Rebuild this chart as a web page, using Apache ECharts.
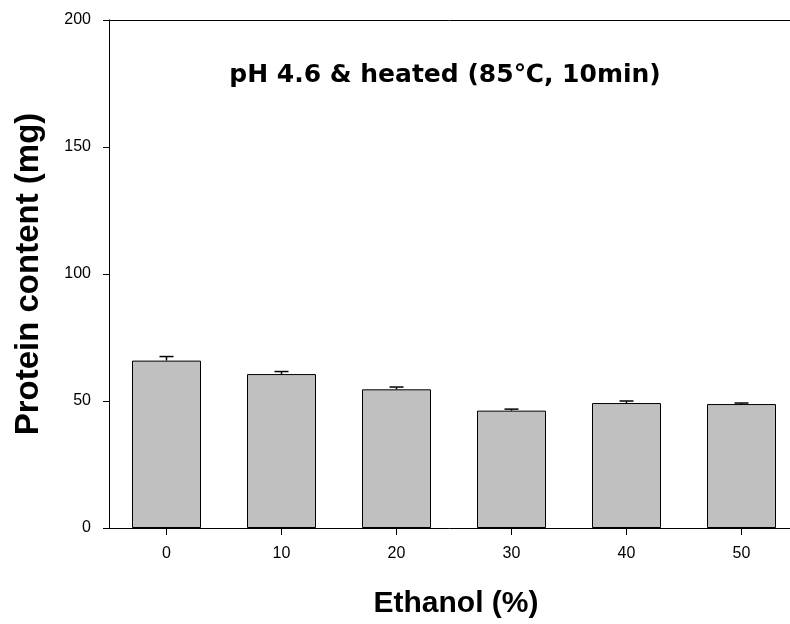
<!DOCTYPE html>
<html>
<head>
<meta charset="utf-8">
<script src="https://cdn.jsdelivr.net/npm/echarts@6/dist/echarts.min.js"></script>
<style>
  html, body { margin: 0; padding: 0; background: #fff; }
  #chart { width: 790px; height: 624px; }
</style>
</head>
<body>
<div id="chart"></div>
<script>
// Ethanol concentration groups (%)
const ethanolLevels = ['0', '10', '20', '30', '40', '50'];
// Mean protein content (mg)
const proteinMean = [65.9, 60.6, 54.6, 46.2, 49.2, 48.8];
// Standard deviation (mg)
const proteinSD = [1.6, 1.0, 0.9, 0.6, 0.8, 0.4];
// Y-axis ticks
const yTicks = [0, 50, 100, 150, 200];

const chart = echarts.init(document.getElementById('chart'), null, { renderer: 'canvas' });

// Groups sit at index positions 0..5; the plot frame continues past the
// right edge of the canvas, so the visible x range stops short of 5.5.
const plotLeft = 109;
const bandPx = 115;
const plotWidth = 790 - plotLeft;
const xMin = -0.5;
const xMax = xMin + plotWidth / bandPx;
const groupIdx = ethanolLevels.map((_, i) => i);

const barData = proteinMean.map((m, i) => [i, m]);
const errorData = proteinMean.map((m, i) => [i, m, m + proteinSD[i]]);

const font = 'Liberation Sans';

const option = {
  animation: false,
  backgroundColor: '#ffffff',
  title: [
    {
      text: 'pH 4.6 & heated (85\u2103, 10min)',
      left: 440,
      top: 58,
      textAlign: 'center',
      textStyle: { fontFamily: 'DejaVu Sans', fontWeight: 'bold', fontSize: 25, color: '#000' }
    },
    {
      text: 'Ethanol (%)',
      left: 451,
      top: 584,
      textAlign: 'center',
      textStyle: { fontFamily: font, fontWeight: 'bold', fontSize: 30, color: '#000' }
    }
  ],
  grid: { left: plotLeft, right: 0, top: 20, bottom: 96 },
  xAxis: [
    {
      type: 'value',
      min: xMin,
      max: xMax,
      position: 'bottom',
      axisLine: { show: true, onZero: false, lineStyle: { color: '#000', width: 1 } },
      axisTick: { show: true, length: 7, customValues: groupIdx, lineStyle: { color: '#000' } },
      axisLabel: {
        fontFamily: font, fontSize: 16, color: '#000', margin: 18,
        customValues: groupIdx,
        formatter: v => ethanolLevels[Math.round(v)]
      },
      splitLine: { show: false }
    },
    {
      // top edge of the frame
      type: 'value',
      min: xMin,
      max: xMax,
      position: 'top',
      axisLine: { show: true, onZero: false, lineStyle: { color: '#000', width: 1 } },
      axisTick: { show: false },
      axisLabel: { show: false },
      splitLine: { show: false }
    }
  ],
  yAxis: {
    type: 'value',
    min: yTicks[0],
    max: yTicks[yTicks.length - 1],
    interval: yTicks[1] - yTicks[0],
    name: 'Protein content (mg)',
    nameLocation: 'middle',
    nameGap: 64,
    nameTextStyle: { fontFamily: font, fontWeight: 'bold', fontSize: 33, color: '#000' },
    axisLine: { show: true, onZero: false, lineStyle: { color: '#000', width: 1 } },
    axisTick: { show: true, length: 6, lineStyle: { color: '#000' } },
    axisLabel: { fontFamily: font, fontSize: 16, color: '#000', margin: 18 },
    splitLine: { show: false }
  },
  series: [
    {
      type: 'bar',
      xAxisIndex: 0,
      data: barData,
      barWidth: 69,
      itemStyle: { color: '#c0c0c0', borderColor: '#000', borderWidth: 1 },
      z: 2
    },
    {
      type: 'custom',
      xAxisIndex: 0,
      data: errorData,
      z: 3,
      renderItem: function (params, api) {
        const x = api.value(0);
        const top = api.coord([x, api.value(2)]);
        const base = api.coord([x, api.value(1)]);
        const half = 7;
        const style = { stroke: '#000', lineWidth: 1.5 };
        return {
          type: 'group',
          children: [
            { type: 'line', shape: { x1: top[0], y1: top[1], x2: base[0], y2: base[1] }, style: style },
            { type: 'line', shape: { x1: top[0] - half, y1: top[1], x2: top[0] + half, y2: top[1] }, style: style }
          ]
        };
      }
    }
  ]
};

chart.setOption(option);
</script>
</body>
</html>
